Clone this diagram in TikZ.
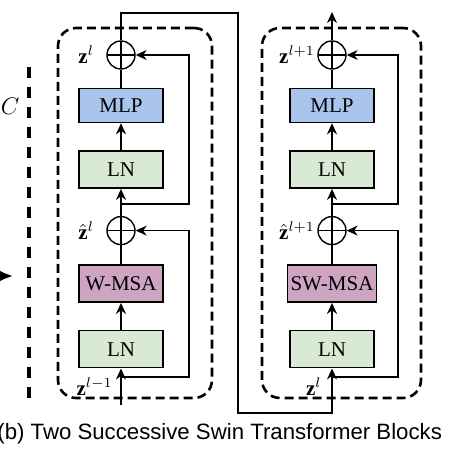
\documentclass[tikz,border=0pt]{standalone}
\usepackage{fontspec}
\setmainfont{Liberation Serif}
\newfontfamily\capfont{Liberation Sans}
\usetikzlibrary{positioning,arrows.meta}
\definecolor{mlpblue}{HTML}{A9C5EC}
\definecolor{lngreen}{HTML}{D8EAD3}
\definecolor{msapink}{HTML}{CDA4C2}

\begin{document}
\begin{tikzpicture}[
    blk/.style={rectangle, draw=black, line width=0.8pt, minimum width=42pt, minimum height=18.5pt, inner xsep=1.5pt, font=\fontsize{10.5}{12}\selectfont, fill=#1},
    blk/.default={lngreen},
    addop/.style={circle, draw=black, line width=0.7pt, minimum size=14pt, inner sep=0pt,
        path picture={\draw[line width=0.7pt] (path picture bounding box.north) -- (path picture bounding box.south)
                                              (path picture bounding box.west) -- (path picture bounding box.east);}},
    lbl/.style={inner sep=1pt, font=\fontsize{10.5}{12}\selectfont},
    arr/.style={-{Stealth[length=5.5pt, width=5pt]}, line width=0.65pt},
    ln/.style={line width=0.65pt},
    blockbox/.style={rectangle, rounded corners=9pt, draw=black, line width=1.3pt, dash pattern=on 4.5pt off 2.5pt},
    sepline/.style={draw=black, line width=2pt, dash pattern=on 5.5pt off 4.5pt},
    ]
    \useasboundingbox (0,0) rectangle (234pt,228pt);

    %%% first block (W-MSA) %%%
    \node[addop] (add2) at (60.5pt,200.5pt) {};
    \node[blk=mlpblue, minimum height=17pt, below=9pt of add2] (mlp1) {MLP};
    \node[blk, below=13.5pt of mlp1] (ln2) {LN};
    \node[addop, below=13.5pt of ln2] (add1) {};
    \node[blk=msapink, below=9.5pt of add1] (msa1) {W-MSA};
    \node[blk, below=13.5pt of msa1] (ln1) {LN};

    %%% second block (SW-MSA) %%%
    \node[addop] (add4) at (166pt,200.5pt) {};
    \node[blk=mlpblue, minimum height=17pt, below=9pt of add4] (mlp2) {MLP};
    \node[blk, below=13.5pt of mlp2] (ln4) {LN};
    \node[addop, below=13.5pt of ln4] (add3) {};
    \node[blk=msapink, below=9.5pt of add3] (msa2) {SW-MSA};
    \node[blk, below=13.5pt of msa2] (ln3) {LN};

    %% dashed block frames
    \node[blockbox, minimum width=77pt, minimum height=185pt] (frame1) at (67.5pt,121.5pt) {};
    \node[blockbox, minimum width=79.5pt, minimum height=185pt] (frame2) at (170.75pt,121.5pt) {};

    %% feature labels
    \node[lbl, left=5pt of add2] (z1) {$\mathbf{z}^l$};
    \node[lbl, left=5pt of add1] (zh1) {$\hat{\mathbf{z}}^l$};
    \node[lbl, below left=3.5pt and 3pt of ln1.south] (z0) {$\mathbf{z}^{l-1}$};
    \node[lbl, left=0pt of add4] (z2) {$\mathbf{z}^{l+1}$};
    \node[lbl, left=0pt of add3] (zh2) {$\hat{\mathbf{z}}^{l+1}$};
    \node[lbl, below left=3.5pt and 4pt of ln3.south] (z1b) {$\mathbf{z}^l$};

    %% branch points and turns
    \coordinate (inL)   at (60.5pt,25.5pt);
    \coordinate (brL1)  at (60.5pt,39.5pt);
    \coordinate (brL2)  at (60.5pt,126pt);
    \coordinate (brR1)  at (166pt,39.5pt);
    \coordinate (brR2)  at (166pt,126pt);
    \coordinate (turnT) at (119pt,221.5pt);
    \coordinate (turnB) at (119pt,21.5pt);
    \coordinate (outR)  at (166pt,222pt);

    % block 1 arrows
    \draw[arr]                  (inL) -- (ln1.south);
    \draw[arr, line width=1.1pt] (ln1) -- (msa1);
    \draw[ln]                   (msa1) -- (add1);
    \draw[arr]                  (add1) -- (ln2);
    \draw[arr]                  (ln2) -- (mlp1);
    \draw[ln]                   (mlp1) -- (add2);
    % block 1 shortcuts
    \draw[arr]   (brL1) -- ++(34pt,0) |- (add1.east);
    \draw[arr]   (brL2) -- ++(34pt,0) |- (add2.east);

    %% from block 1 to block 2
    \draw[arr]   (add2.north) |- (turnT) -- (turnB) -| (ln3.south);

    % block 2 arrows
    \draw[arr, line width=1.1pt] (ln3) -- (msa2);
    \draw[ln]                   (msa2) -- (add3);
    \draw[arr]                  (add3) -- (ln4);
    \draw[arr]                  (ln4) -- (mlp2);
    \draw[ln]                   (mlp2) -- (add4);
    \draw[arr]                  (add4) -- (outR);
    % block 2 shortcuts
    \draw[arr]   (brR1) -- ++(33pt,0) |- (add3.east);
    \draw[arr]   (brR2) -- ++(33pt,0) |- (add4.east);

    %%% left edge: stage separator, C and incoming arrow %%%
    \coordinate (sepTop) at (14.5pt,194.5pt);
    \coordinate (sepBot) at (14.5pt,26.5pt);
    \draw[sepline] (sepTop) -- (sepBot);
    \node[anchor=west, inner sep=0pt, font=\fontsize{13}{15}\selectfont] (dimC) at (0.3pt,175pt) {$C$};
    \coordinate (inTail) at (-10pt,90pt);
    \coordinate (inHead) at (6.5pt,90pt);
    \draw[-{Latex[length=8pt, width=7pt]}, line width=1.2pt] (inTail) -- (inHead);

    %% caption
    \node[anchor=base west, inner sep=0pt, font=\capfont\fontsize{11.1}{13}\selectfont] (caption) at (-1.5pt,8pt)
        {(b) Two Successive Swin Transformer Blocks};

\end{tikzpicture}
\end{document}
